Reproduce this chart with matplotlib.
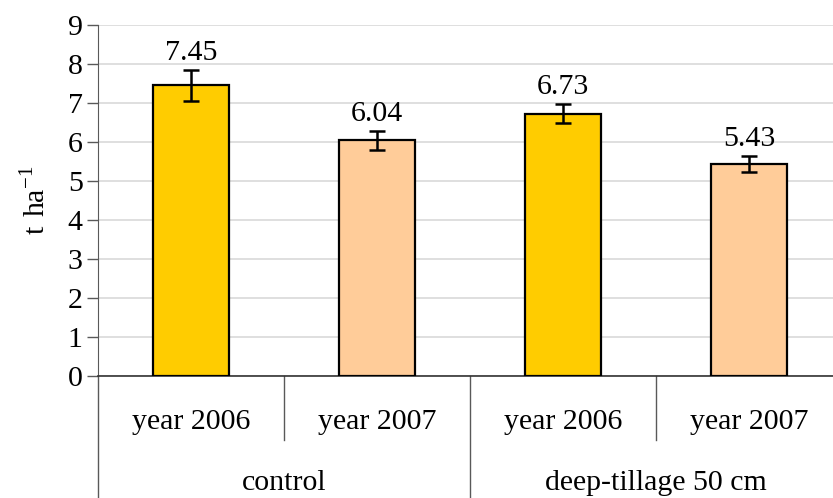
import matplotlib
matplotlib.use("Agg")
import matplotlib.pyplot as plt

plt.rcParams['font.family'] = ['Liberation Serif', 'DejaVu Serif']
plt.rcParams['mathtext.fontset'] = 'custom'
plt.rcParams['mathtext.rm'] = 'Liberation Serif'

# yield per treatment and year
years = ["year 2006", "year 2007", "year 2006", "year 2007"]
groups = ["control", "deep-tillage 50 cm"]
yields = [7.45, 6.04, 6.73, 5.43]
errors = [0.39, 0.24, 0.24, 0.20]
colors = ["#FFCC00", "#FFCC99", "#FFCC00", "#FFCC99"]

FS = 21.5
W, H = 833, 498
fig = plt.figure(figsize=(W / 100, H / 100), dpi=100)
left, right, top, bottom = 98, 842, 25, 376
ax = fig.add_axes([left / W, (H - bottom) / H, (right - left) / W, (bottom - top) / H])

x = list(range(len(yields)))
ax.bar(x, yields, width=0.405, color=colors, edgecolor="black", linewidth=1.6, zorder=3)
ax.errorbar(x, yields, yerr=errors, fmt="none", ecolor="black", elinewidth=1.8,
            capsize=6, capthick=1.8, zorder=4)
for xi, v, e in zip(x, yields, errors):
    ax.annotate(f"{v:.2f}", (xi, v + e), xytext=(0, 3), textcoords="offset points",
                ha="center", va="bottom", fontsize=FS)

ax.set_xlim(-0.5, 3.5)
ax.set_ylim(0, 9)
ax.set_yticks(range(10))
ax.yaxis.grid(True, color="#d9d9d9", linewidth=1.2, zorder=0)
ax.set_axisbelow(True)
ax.tick_params(axis="y", labelsize=FS, length=8, width=1, color="#595959", pad=3)
ax.set_xticks([])
for s in ["top", "right"]:
    ax.spines[s].set_visible(False)
ax.spines["left"].set_color("#595959")
ax.spines["bottom"].set_color("#333333")
ax.spines["bottom"].set_linewidth(1.2)
ax.set_ylabel(r"$\mathrm{t\ ha}^{-1}$", fontsize=FS, labelpad=12)

# two-level category axis below the plot
trans = ax.get_xaxis_transform()
unit = bottom - top
for xd in [0.5, 2.5]:
    ax.plot([xd, xd], [0, -64 / unit], transform=trans, color="#595959", lw=1, clip_on=False)
for xd in [-0.5, 1.5, 3.5]:
    ax.plot([xd, xd], [0, -125 / unit], transform=trans, color="#595959", lw=1, clip_on=False)
for xi, lab in zip(x, years):
    ax.text(xi, -46 / unit, lab, transform=trans, ha="center", va="center", fontsize=FS)
for gi, lab in enumerate(groups):
    ax.text(gi * 2 + 0.5, -107 / unit, lab, transform=trans, ha="center", va="center", fontsize=FS)

fig.savefig("out.png", dpi=100)
